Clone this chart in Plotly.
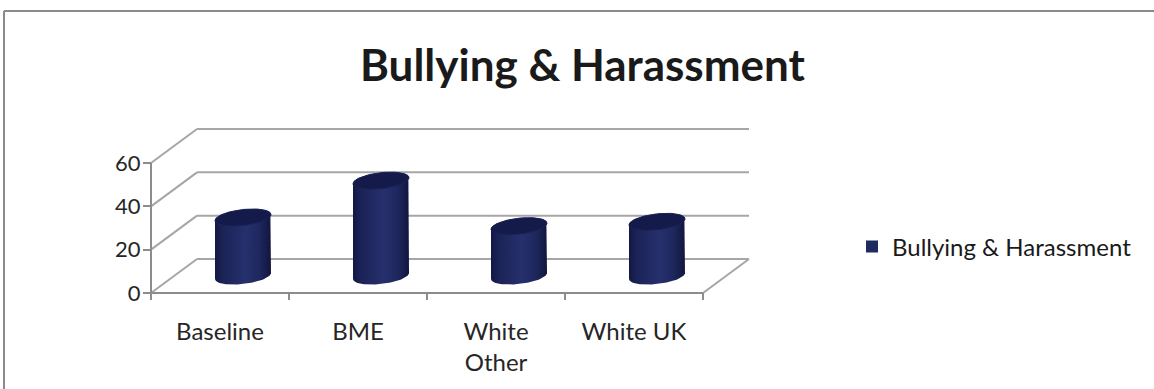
import numpy as np
import plotly.graph_objects as go

# ---- data ----
categories = ["Baseline", "BME", "White<br>Other", "White UK"]
values = [27, 44, 23, 25]
series_name = "Bullying & Harassment"
y_ticks = [0, 20, 40, 60]

# ---- canvas / projection settings ----
W, H = 1154, 389
X0_PX, SLOT_PX = 151, 138          # left edge of the front plane, width of one category slot
Y0_PX, UNIT_PX = 293, 130 / 60     # baseline pixel row, pixels per value unit
x_range = [-0.5 - X0_PX / SLOT_PX, -0.5 + (W - X0_PX) / SLOT_PX]
y_range = [-(H - Y0_PX) / UNIT_PX, Y0_PX / UNIT_PX]

DEPTH_X = 46 / SLOT_PX             # oblique depth offset of the back wall
DEPTH_Y = 34 / UNIT_PX
RAD_X = 28 / SLOT_PX               # cylinder radius (horizontal)
RAD_Y = 8 / UNIT_PX                # ellipse half height
SHEAR = (3 / UNIT_PX) / RAD_X      # slight tilt of the ellipses

GRID = "#a6a6a6"
AXIS = "#8c8c8c"
FONT = "Lato"
TEXT = "#262626"
BODY_SCALE = [[0.0, "#121843"], [0.12, "#1a2255"], [0.55, "#26306d"],
              [0.8, "#1e275d"], [1.0, "#10163e"]]
TOP_COLOR = "#141a4a"

fig = go.Figure()

x_left, x_right = -0.5, len(categories) - 0.5

# ---- walls, floor and gridlines ----
shapes = []
def seg(x0, y0, x1, y1, color=GRID, width=2):
    shapes.append(dict(type="line", xref="x", yref="y", x0=x0, y0=y0, x1=x1, y1=y1,
                       line=dict(color=color, width=width), layer="below"))

for v in y_ticks:
    seg(x_left, v, x_left + DEPTH_X, v + DEPTH_Y)
    seg(x_left + DEPTH_X, v + DEPTH_Y, x_right + DEPTH_X, v + DEPTH_Y)
seg(x_right, 0, x_right + DEPTH_X, DEPTH_Y)
seg(x_left, 0, x_left, max(y_ticks), color=AXIS)
seg(x_left, 0, x_right, 0, color=AXIS)
tick_len = 7 / UNIT_PX
for k in range(len(categories) + 1):
    xb = x_left + k
    seg(xb, 0, xb, -tick_len, color=AXIS)

# outer chart border
shapes.append(dict(type="line", xref="paper", yref="paper", x0=4 / W, y0=1 - 11 / H,
                   x1=1, y1=1 - 11 / H, line=dict(color="#8a8a8a", width=2)))
shapes.append(dict(type="line", xref="paper", yref="paper", x0=4 / W, y0=0,
                   x1=4 / W, y1=1 - 11 / H, line=dict(color="#8a8a8a", width=2)))

# ---- cylinders ----
def ellipse(cx, cy, t):
    dx = RAD_X * np.cos(t)
    return cx + dx, cy + RAD_Y * np.sin(t) + SHEAR * dx

for i, v in enumerate(values):
    cx = i + DEPTH_X / 2
    base = DEPTH_Y / 2
    top = v + DEPTH_Y / 2
    bx, by = ellipse(cx, base, np.linspace(np.pi, 2 * np.pi, 60))
    tx, ty = ellipse(cx, top, np.linspace(0, np.pi, 60))
    fig.add_trace(go.Scatter(
        x=np.concatenate([bx, tx]), y=np.concatenate([by, ty]),
        mode="lines", fill="toself", line=dict(width=0),
        fillgradient=dict(type="horizontal", colorscale=BODY_SCALE),
        hoverinfo="skip", showlegend=False))
    ex, ey = ellipse(cx, top, np.linspace(0, 2 * np.pi, 100))
    fig.add_trace(go.Scatter(
        x=ex, y=ey, mode="lines", fill="toself", fillcolor=TOP_COLOR,
        line=dict(width=1, color="#1c2456"), hoverinfo="skip", showlegend=False))

# legend entry
fig.add_trace(go.Scatter(x=[None], y=[None], mode="markers", name=series_name,
                         marker=dict(symbol="square", size=12, color="#1f2a60")))

fig.add_annotation(text="<b>Bullying & Harassment</b>", xref="paper", yref="paper",
                   x=583 / W, y=1 - 64 / H, xanchor="center", yanchor="middle",
                   showarrow=False, font=dict(family=FONT, size=44, color="#1a1a1a"))

fig.update_layout(
    width=W, height=H, autosize=False,
    margin=dict(l=0, r=0, t=0, b=0, pad=0),
    paper_bgcolor="white", plot_bgcolor="white",
    shapes=shapes,
    font=dict(family=FONT, size=24, color=TEXT),
    showlegend=True,
    legend=dict(x=852 / W, y=1 - 247 / H, xanchor="left", yanchor="middle",
                font=dict(family=FONT, size=24, color="#1a1a1a"),
                bgcolor="rgba(0,0,0,0)"),
    xaxis=dict(range=x_range, domain=[0, 1], anchor="free", position=(H - Y0_PX) / H,
               tickvals=list(range(len(categories))), ticktext=categories,
               ticks="", showgrid=False, zeroline=False, showline=False,
               ticklabelstandoff=22, tickfont=dict(size=24, color=TEXT)),
    yaxis=dict(range=y_range, domain=[0, 1], anchor="free", position=X0_PX / W,
               tickvals=y_ticks, ticks="outside", ticklen=8, tickwidth=2, tickcolor=AXIS,
               showgrid=False, zeroline=False, showline=False, ticklabelstandoff=-2,
               tickfont=dict(size=22, color=TEXT)),
)

fig.write_html("out.html")
